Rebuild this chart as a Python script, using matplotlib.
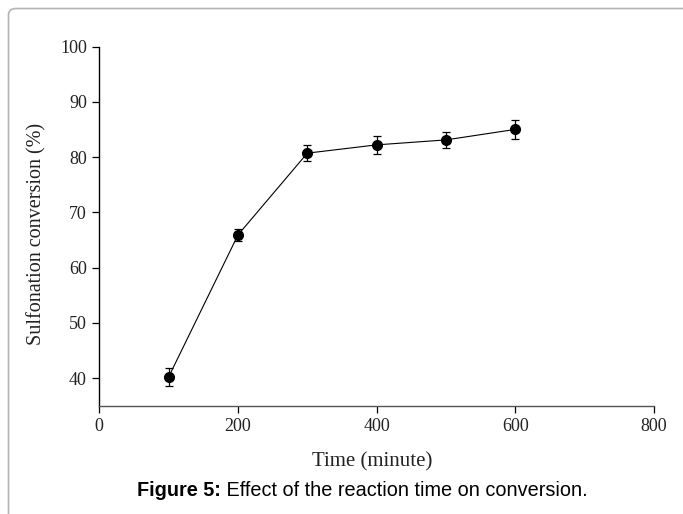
import matplotlib
matplotlib.use('Agg')
import matplotlib.pyplot as plt
from matplotlib.patches import FancyBboxPatch

time_min = [100, 200, 300, 400, 500, 600]
conversion = [40.2, 65.9, 80.7, 82.2, 83.1, 85.0]
err = [1.6, 1.15, 1.4, 1.6, 1.5, 1.7]
x_ticks = [0, 200, 400, 600, 800]
y_ticks = [40, 50, 60, 70, 80, 90, 100]

fig = plt.figure(figsize=(6.83, 5.14), dpi=100)

# light grey frame around the figure
frame = FancyBboxPatch((8.5 / 683, -0.1), 1.2, 1.1 - 8.5 / 514,
                       boxstyle='round,pad=0,rounding_size=0.012',
                       transform=fig.transFigure, fill=False,
                       edgecolor='#b4b4b4', linewidth=1.2)
fig.patches.append(frame)

ax = fig.add_axes([99.3 / 683, 1 - 405.7 / 514, (654 - 99.3) / 683, (405.7 - 46.5) / 514])
ax.errorbar(time_min, conversion, yerr=err, fmt='-o', color='black',
            linewidth=0.8, markersize=7, elinewidth=0.9, capsize=2.6, capthick=0.9)

ax.set_xlim(0, 800)
ax.set_ylim(35, 100)
ax.set_xticks(x_ticks)
ax.set_yticks(y_ticks)
for s in ['top', 'right']:
    ax.spines[s].set_visible(False)
ax.spines['left'].set_linewidth(1.0)
ax.spines['bottom'].set_linewidth(1.0)
ax.spines['bottom'].set_color('#555555')
ax.tick_params(direction='out', length=5, width=0.9, labelsize=13, pad=4,
               labelcolor='#222222')
for lab in ax.get_xticklabels() + ax.get_yticklabels():
    lab.set_family('Liberation Serif')

ax.set_xlabel('Time (minute)', family='Liberation Serif', fontsize=15, color='#222222')
ax.set_ylabel('Sulfonation conversion (%)', family='Liberation Serif', fontsize=14.5,
              color='#222222')
ax.xaxis.set_label_coords((372 - 99.3) / 554.7, -(452 - 405.7) / 359.2)
ax.yaxis.set_label_coords(-(99.3 - 46) / 554.7, (405.7 - 234) / 359.2)

# caption: bold "Figure 5:" followed by regular text
cap_y = 1 - 491 / 514
t1 = fig.text(137 / 683, cap_y, 'Figure 5:', fontsize=14.3, fontweight='bold',
              family='Liberation Sans', ha='left', va='center')
r = fig.canvas.get_renderer()
bb = t1.get_window_extent(renderer=r)
fig.text(bb.x1 / fig.bbox.width, cap_y, ' Effect of the reaction time on conversion.',
         fontsize=14.3, family='Liberation Sans', ha='left', va='center')

fig.savefig('out.png', dpi=100)
